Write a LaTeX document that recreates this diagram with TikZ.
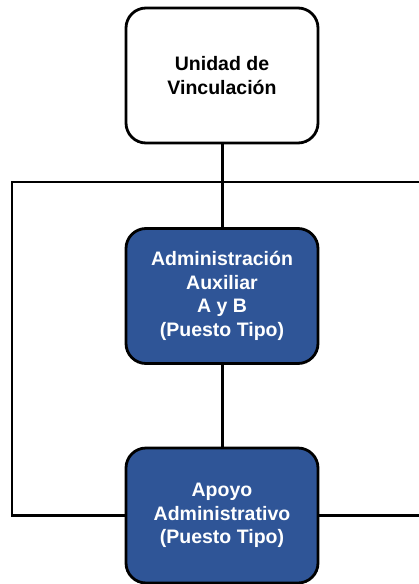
\documentclass[tikz,border=0pt]{standalone}
\usepackage{fontspec}
\setmainfont{Liberation Sans}
\definecolor{puestoazul}{HTML}{2F5597}

\begin{document}
\begin{tikzpicture}[x=1pt,y=-1pt,
  unidad/.style = {shape=rectangle, rounded corners=20pt, draw, line width=2.8pt,
    minimum width=192pt, minimum height=135pt, align=center,
    font=\fontsize{19.5}{23.5}\selectfont\bfseries},
  puesto/.style = {unidad, fill=puestoazul, text=white},
  conn/.style = {line width=3pt}]
  \useasboundingbox (0,0) rectangle (419,584);
  \node[unidad] (uv) at (222,75.5) {Unidad de\\Vinculación};
  \node[puesto] (aux) at (222,296) {Administración\\Auxiliar\\A y B\\(Puesto Tipo)};
  \node[puesto] (apoyo) at (222,515.5) {Apoyo\\Administrativo\\(Puesto Tipo)};
  \coordinate (izq) at (12,182);
  \coordinate (der) at (425,182);
  \draw[conn] (uv.south) -- (aux.north);
  \draw[conn] (aux.south) -- (apoyo.north);
  \draw[conn, line width=2.4pt] (der) -- (izq) |- (apoyo.west);
  \draw[conn, line width=2.4pt] (apoyo.east) -- (apoyo.east -| der);
\end{tikzpicture}
\end{document}
